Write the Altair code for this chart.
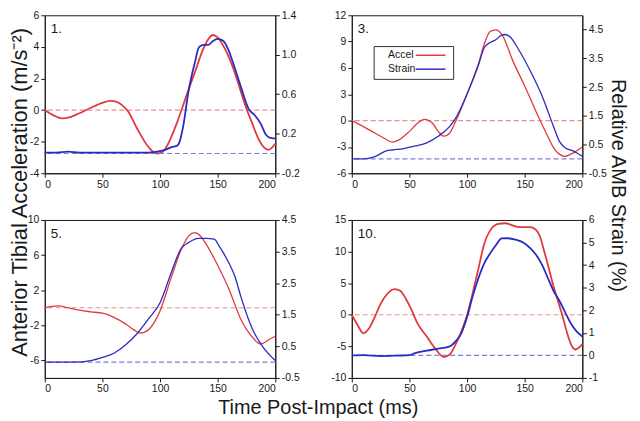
import altair as alt
import pandas as pd

FONT = "Liberation Sans"
RED = "#e03a3e"
BLUE = "#2b2bbf"
RED_DASH = "#e89090"
BLUE_DASH = "#8080d4"
INK = "#1a1a1a"

x_ticks = [0, 50, 100, 150, 200]
zero_line = [0]
series_names = ["Accel", "Strain"]

# ---- Panel 1 ----
p1_acc_t = [0, 8, 15, 22, 30, 40, 50, 57, 63, 68, 72, 80, 90, 97, 100, 105, 110, 115, 120, 125,
            130, 137, 142, 146, 150, 157, 165, 170, 175, 180, 185, 190, 194, 200]
p1_acc_v = [0.0, -0.35, -0.53, -0.45, -0.2, 0.15, 0.46, 0.58, 0.5, 0.25, -0.05, -1.15, -2.34, -2.75,
            -2.73, -2.4, -1.66, -0.75, 0.29, 1.35, 2.34, 3.78, 4.5, 4.75, 4.6, 3.78, 2.34, 1.2, 0.09,
            -0.84, -1.76, -2.35, -2.52, -2.13]
p1_str_t = [0, 10, 20, 30, 50, 70, 90, 100, 105, 110, 115, 117, 120, 125, 130, 134, 138, 142, 146,
            150, 155, 160, 165, 170, 177, 182, 187, 192, 195, 200]
p1_str_v = [0.01, 0.01, 0.02, 0.01, 0.01, 0.01, 0.01, 0.025, 0.04, 0.065, 0.08, 0.12, 0.27, 0.65,
            0.91, 1.08, 1.10, 1.10, 1.14, 1.16, 1.14, 1.03, 0.86, 0.68, 0.45, 0.39, 0.31, 0.19, 0.16, 0.15]

# ---- Panel 3 ----
p3_acc_t = [0, 10, 20, 30, 35, 40, 50, 57, 63, 70, 75, 80, 85, 90, 100, 110, 115, 120, 125, 130,
            140, 150, 160, 170, 175, 180, 185, 190, 200]
p3_acc_v = [0.0, -0.68, -1.41, -2.15, -2.45, -2.26, -1.23, -0.3, 0.14, -0.31, -1.23, -1.78, -1.41,
            -0.12, 3.02, 6.53, 8.75, 10.15, 10.34, 9.86, 6.72, 3.94, 0.99, -1.78, -3.07, -3.82,
            -4.07, -3.82, -3.0]
p3_str_t = [0, 10, 20, 30, 35, 45, 55, 65, 75, 85, 90, 100, 110, 115, 120, 125, 130, 133, 137, 145,
            155, 165, 175, 180, 185, 192, 200]
p3_str_v = [0.0, 0.0, 0.08, 0.28, 0.31, 0.36, 0.45, 0.56, 0.79, 1.13, 1.41, 2.26, 3.28, 3.88, 4.05,
            4.15, 4.31, 4.33, 4.26, 3.79, 3.05, 2.2, 1.13, 0.62, 0.39, 0.28, 0.09]

# ---- Panel 5 ----
p5_acc_t = [0, 5, 12, 20, 30, 40, 50, 60, 70, 78, 83, 88, 95, 100, 110, 118, 125, 130, 135, 140,
            150, 160, 170, 180, 187, 195, 200]
p5_acc_v = [0.0, 0.13, 0.2, 0.0, -0.28, -0.47, -0.62, -1.1, -1.84, -2.58, -2.88, -2.7, -1.66, -0.36,
            3.54, 6.51, 8.18, 8.55, 8.18, 7.25, 4.84, 2.06, -1.28, -3.33, -4.14, -3.59, -3.25]
p5_str_t = [0, 25, 40, 50, 60, 70, 80, 90, 100, 110, 118, 125, 133, 140, 147, 152, 160, 165, 170,
            180, 190, 200]
p5_str_v = [0.0, 0.0, 0.05, 0.15, 0.28, 0.54, 0.9, 1.37, 1.88, 2.86, 3.58, 3.79, 3.92, 3.92, 3.89,
            3.63, 3.12, 2.71, 2.09, 1.06, 0.44, 0.05]

# ---- Panel 10 ----
p10_acc_t = [0, 5, 10, 15, 20, 25, 30, 37, 42, 47, 52, 57, 65, 72, 80, 85, 90, 95, 100, 105, 110,
             115, 120, 127, 133, 140, 145, 155, 160, 163, 167, 170, 175, 180, 183, 187, 190, 194, 200]
p10_acc_v = [0.0, -1.63, -2.92, -2.15, -0.34, 1.73, 3.12, 4.05, 3.79, 2.5, 0.69, -1.37, -3.44, -5.25,
             -6.69, -6.28, -4.73, -2.67, -0.08, 3.53, 7.41, 11.28, 13.35, 14.38, 14.48, 14.12, 13.86,
             13.86, 13.4, 12.5, 10.0, 8.0, 4.5, 1.5, -0.3, -3.0, -4.6, -5.5, -4.7]
p10_str_t = [0, 10, 25, 40, 50, 55, 65, 75, 85, 90, 95, 100, 105, 110, 115, 120, 125, 130, 135, 142,
             150, 155, 160, 165, 170, 175, 180, 185, 190, 195, 200]
p10_str_v = [0.0, 0.01, -0.03, -0.01, 0.01, 0.1, 0.21, 0.3, 0.4, 0.62, 0.98, 1.7, 2.64, 3.44, 4.09,
             4.52, 4.88, 5.18, 5.19, 5.13, 4.96, 4.74, 4.45, 4.02, 3.44, 2.86, 2.43, 1.92, 1.42, 1.06, 0.84]

W, H = 232, 159
MINUS = "replace(datum.label, '\u2212', '-')"


def panel(label, acc_t, acc_v, str_t, str_v, acc_dom, acc_ticks, str_dom, str_ticks, str_fmt, lw,
          legend=None):
    xenc = alt.X("t:Q", scale=alt.Scale(domain=[0, 200], nice=False, zero=False),
                 axis=alt.Axis(values=x_ticks, title=None, format="d"))
    acc_scale = alt.Scale(domain=acc_dom, nice=False, zero=False)
    acc_axis = alt.Axis(values=acc_ticks, title=None, orient="left", format="d", labelExpr=MINUS)
    str_scale = alt.Scale(domain=str_dom, nice=False, zero=False)
    str_axis = alt.Axis(values=str_ticks, title=None, orient="right", format=str_fmt, labelExpr=MINUS)

    acc_df = pd.DataFrame({"t": acc_t, "v": acc_v, "s": series_names[0]})
    str_df = pd.DataFrame({"t": str_t, "v": str_v, "s": series_names[1]})
    zdf = pd.DataFrame({"z": zero_line})

    if legend is not None:
        cscale = alt.Scale(domain=series_names, range=[RED, BLUE])
        color_a = alt.Color("s:N", scale=cscale, legend=legend)
        color_s = alt.Color("s:N", scale=cscale, legend=legend)
    else:
        color_a = alt.value(RED)
        color_s = alt.value(BLUE)

    acc_rule = alt.Chart(zdf).mark_rule(color=RED_DASH, strokeDash=[5, 3], strokeWidth=1.2).encode(
        y=alt.Y("z:Q", scale=acc_scale, axis=acc_axis))
    acc_line = alt.Chart(acc_df).mark_line(interpolate="monotone", strokeWidth=lw).encode(
        x=xenc, y=alt.Y("v:Q", scale=acc_scale, axis=acc_axis), color=color_a)
    lab = alt.Chart(pd.DataFrame({"lab": [label]})).mark_text(
        align="left", baseline="top", font=FONT, fontSize=13.5, color=INK).encode(
        text="lab:N", x=alt.value(6), y=alt.value(7))

    str_rule = alt.Chart(zdf).mark_rule(color=BLUE_DASH, strokeDash=[5, 3], strokeWidth=1.2).encode(
        y=alt.Y("z:Q", scale=str_scale, axis=str_axis))
    str_line = alt.Chart(str_df).mark_line(interpolate="monotone", strokeWidth=lw).encode(
        x=xenc, y=alt.Y("v:Q", scale=str_scale, axis=str_axis), color=color_s)

    left = alt.layer(acc_rule, acc_line, lab)
    right = alt.layer(str_rule, str_line)
    return alt.layer(left, right).resolve_scale(y="independent").properties(width=W, height=H)


# legend: label on the left, line swatch drawn to its right (custom symbol path)
leg = alt.Legend(orient="none", legendX=22, legendY=31, title=None, symbolType="M33,0H63",
                 symbolSize=4, symbolStrokeWidth=1.5, labelFont=FONT, labelFontSize=10.5,
                 labelColor=INK, strokeColor="#333", fillColor="white", padding=4, rowPadding=3,
                 symbolOffset=0, labelOffset=0)

p1 = panel("1.", p1_acc_t, p1_acc_v, p1_str_t, p1_str_v, [-4, 6], [-4, -2, 0, 2, 4, 6],
           [-0.2, 1.4], [-0.2, 0.2, 0.6, 1.0, 1.4], ".1f", 1.8)
p3 = panel("3.", p3_acc_t, p3_acc_v, p3_str_t, p3_str_v, [-6, 12], [-6, -3, 0, 3, 6, 9, 12],
           [-0.5, 5.0], [-0.5, 0.5, 1.5, 2.5, 3.5, 4.5], ".1f", 1.3, legend=leg)
p5 = panel("5.", p5_acc_t, p5_acc_v, p5_str_t, p5_str_v, [-8, 10], [-6, -2, 2, 6, 10],
           [-0.5, 4.5], [-0.5, 0.5, 1.5, 2.5, 3.5, 4.5], ".1f", 1.3)
p10 = panel("10.", p10_acc_t, p10_acc_v, p10_str_t, p10_str_v, [-10, 15], [-10, -5, 0, 5, 10, 15],
            [-1, 6], [-1, 0, 1, 2, 3, 4, 5, 6], "d", 1.8)

grid = alt.concat(p1, p3, p5, p10, columns=2, spacing={"row": 24, "column": 30}).resolve_scale(
    color="independent").resolve_legend(color="independent")

with_left = alt.hconcat(grid).properties(title=alt.TitleParams(
    "Anterior Tibial Acceleration (m/s\u207b\u00b2)", orient="left", anchor="middle", offset=-5,
    fontSize=22, dx=10))
with_right = alt.hconcat(with_left).properties(title=alt.TitleParams(
    "Relative AMB Strain (%)", orient="right", anchor="middle", offset=1, dx=-17))
chart = alt.vconcat(with_right).properties(
    title=alt.TitleParams("Time Post-Impact (ms)", orient="bottom", anchor="middle", offset=3),
    padding={"left": 0, "top": 0, "right": 4, "bottom": 0},
).configure_axis(
    labelFont=FONT, labelFontSize=10.5, labelColor=INK, domainColor=INK, tickColor=INK,
    tickSize=4, labelPadding=2, grid=False, domainWidth=1, tickWidth=1,
).configure_view(stroke=INK, strokeWidth=1).configure_title(
    font=FONT, fontSize=20, fontWeight="normal", color=INK)

chart.save("out.html", embed_options={"renderer": "svg", "actions": False})
